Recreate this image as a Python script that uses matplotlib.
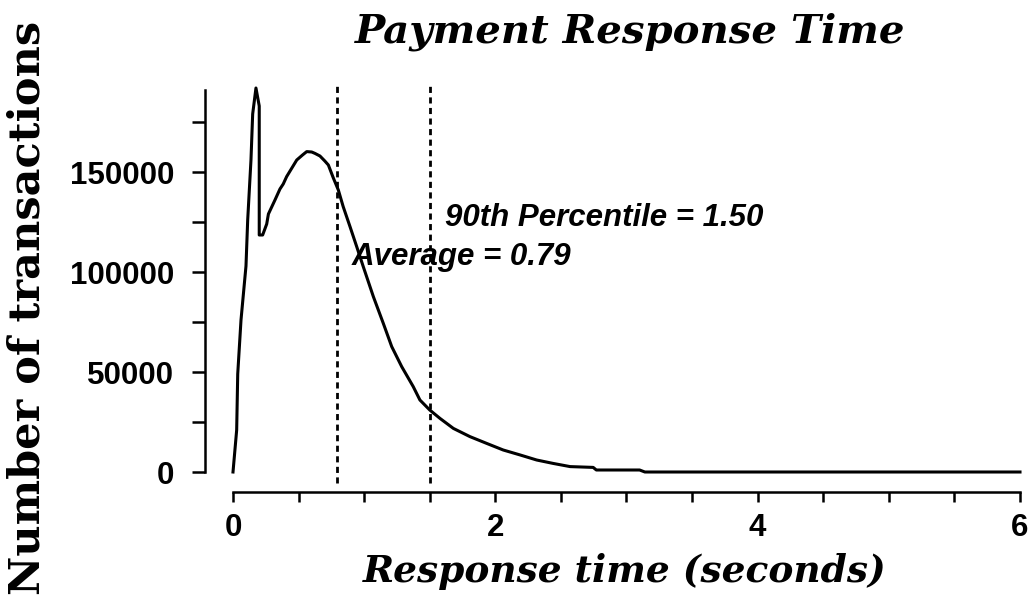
import matplotlib
matplotlib.use("Agg")
import matplotlib.pyplot as plt
from matplotlib.font_manager import FontProperties

# Response time (seconds) and number of transactions
resp_time = [0, 0.028, 0.036, 0.061, 0.099, 0.112, 0.137, 0.15, 0.175, 0.20, 0.20,
             0.226, 0.257, 0.27, 0.32, 0.358, 0.383, 0.409, 0.447, 0.486, 0.53,
             0.562, 0.60, 0.625, 0.663, 0.70, 0.727, 0.765, 0.803, 0.84, 0.892,
             0.943, 0.993, 1.07, 1.146, 1.21, 1.286, 1.374, 1.425, 1.50, 1.578,
             1.68, 1.806, 1.934, 2.06, 2.19, 2.315, 2.44, 2.57, 2.746, 2.77,
             3.10, 3.14, 6.0]
transactions = [0, 21000, 49000, 76000, 103000, 126000, 156000, 179000, 192000,
                183000, 118500, 118500, 124000, 129000, 136000, 141500, 144000,
                147700, 151800, 156000, 158500, 160200, 160000, 159300, 158000,
                155500, 153500, 147000, 141000, 132700, 122700, 112700, 102700,
                87700, 74300, 62700, 52700, 42700, 36000, 31000, 26800, 21800,
                17700, 14300, 11000, 8500, 6000, 4300, 2700, 2300, 1000, 1000,
                0, 0]

average = 0.79
percentile_90 = 1.50

x_major = [0, 2, 4, 6]
x_minor = [0.5 * i for i in range(13)]
y_major = [0, 50000, 100000, 150000]
y_minor = [25000, 75000, 125000, 175000]

W, H = 1029, 612
PX = 72 / 100  # points per pixel
fig = plt.figure(figsize=(W / 100, H / 100), dpi=100)
ax = fig.add_axes([233 / W, 1 - 483 / H, 787 / W, 398 / H])

ax.plot(resp_time, transactions, color="black", lw=2.2, clip_on=False,
        solid_joinstyle="round")
for v in (average, percentile_90):
    ax.plot([v, v], [-5500, 193500], color="black", lw=2.0,
            dashes=(2.2, 1.6), clip_on=False)

ax.set_xlim(0, 6)
ax.set_ylim(-5500, 193500)

for s in ("top", "right"):
    ax.spines[s].set_visible(False)
ax.spines["left"].set_position(("outward", 28 * PX))
ax.spines["left"].set_bounds(0, 191000)
ax.spines["bottom"].set_position(("outward", 9 * PX))
ax.spines["bottom"].set_bounds(0, 6)
for s in ("left", "bottom"):
    ax.spines[s].set_linewidth(1.8)

ax.set_xticks(x_major)
ax.set_xticks(x_minor, minor=True)
ax.set_yticks(y_major)
ax.set_yticks(y_minor, minor=True)
ax.set_xticklabels([str(v) for v in x_major])
ax.set_yticklabels([str(v) for v in y_major])

tickfp = FontProperties(family="Liberation Sans", weight="bold", size=22.5)
for lab in ax.get_xticklabels() + ax.get_yticklabels():
    lab.set_fontproperties(tickfp)
ax.tick_params(axis="both", which="both", direction="out", width=1.8,
               color="black")
ax.tick_params(axis="y", which="both", length=13 * PX, pad=18 * PX)
ax.tick_params(axis="x", which="both", length=10 * PX, pad=11 * PX)

ax.text(1.62, 127000, "90th Percentile = 1.50", family="Liberation Sans",
        weight="bold", style="italic", size=22.5, va="center", ha="left")
ax.text(0.907, 107500, "Average = 0.79", family="Liberation Sans",
        weight="bold", style="italic", size=22.5, va="center", ha="left")

fig.text(630 / W, 1 - 32 / H, "Payment Response Time", family="DejaVu Serif",
         weight="bold", style="italic", size=29, ha="center", va="center")
fig.text(625 / W, 1 - 572 / H, "Response time (seconds)", family="DejaVu Serif",
         weight="bold", style="italic", size=27, ha="center", va="center")
fig.text(28 / W, 1 - 308 / H, "Number of transactions", family="DejaVu Serif",
         weight="bold", size=31, ha="center", va="center", rotation=90)

fig.savefig("out.png", dpi=100, facecolor="white")
